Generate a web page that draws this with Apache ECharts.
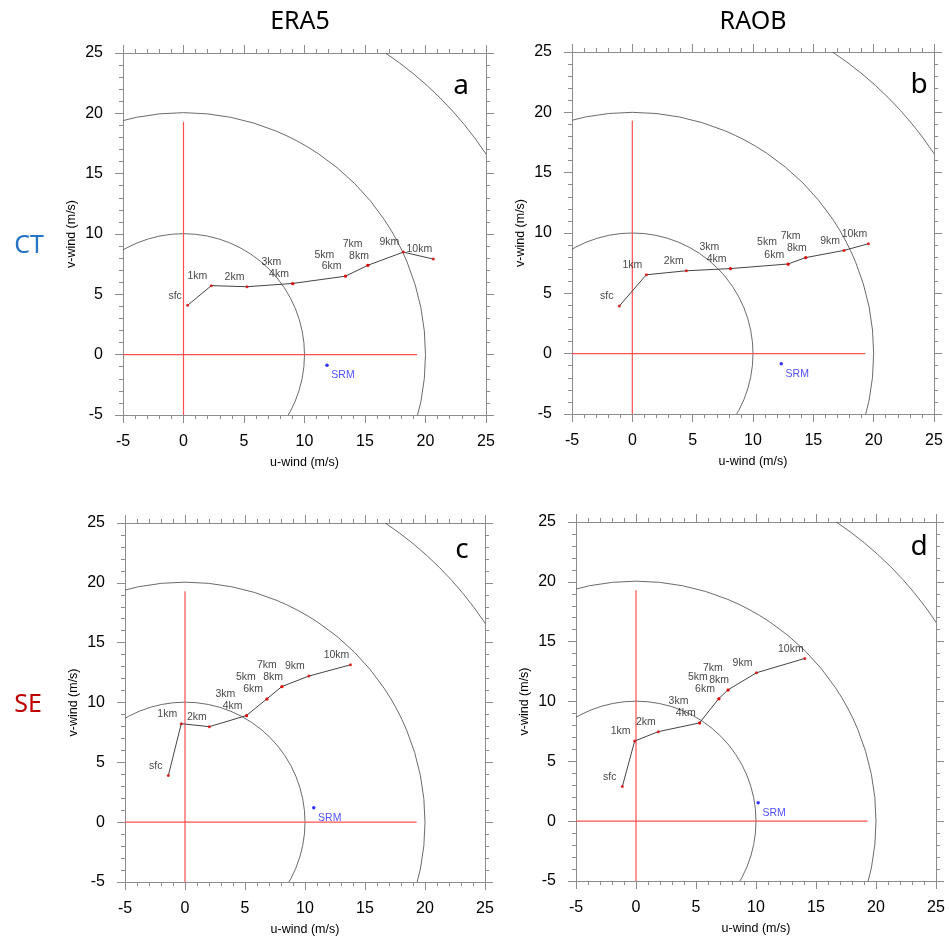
<!DOCTYPE html>
<html>
<head>
<meta charset="utf-8">
<script src="https://cdn.jsdelivr.net/npm/echarts@6/dist/echarts.min.js"></script>
<style>
html,body{margin:0;padding:0;background:#fff;}
#chart{width:949px;height:938px;}
</style>
</head>
<body>
<div id="chart"></div>
<script>
// ---------- data ----------
const levels = ['sfc','1km','2km','3km','4km','5km','6km','7km','8km','9km','10km'];
const ringRadii = [10, 20, 30];
const crossLength = 19.3;
const axisMin = -5, axisMax = 25, axisStep = 5;

const era5CtU = [0.34, 2.30, 5.25, 9.00, 9.05, 13.38, 13.40, 15.22, 15.25, 18.17, 20.65];
const era5CtV = [4.09, 5.72, 5.63, 5.90, 5.88, 6.50, 6.52, 7.40, 7.42, 8.50, 7.92];
const era5CtSrm = [11.86, -0.87];

const raobCtU = [-1.08, 1.16, 4.47, 8.12, 8.14, 12.90, 12.92, 14.36, 14.38, 17.55, 19.57];
const raobCtV = [3.95, 6.54, 6.87, 7.05, 7.04, 7.43, 7.42, 7.96, 7.95, 8.56, 9.11];
const raobCtSrm = [12.34, -0.83];

const era5SeU = [-1.39, -0.31, 2.03, 5.12, 5.14, 6.82, 6.84, 8.07, 8.09, 10.32, 13.79];
const era5SeV = [3.89, 8.23, 7.98, 8.91, 8.90, 10.30, 10.29, 11.33, 11.32, 12.21, 13.15];
const era5SeSrm = [10.73, 1.20];

const raobSeU = [-1.14, -0.11, 1.86, 5.29, 5.31, 6.90, 6.92, 7.66, 7.68, 10.04, 14.07];
const raobSeV = [2.89, 6.70, 7.48, 8.21, 8.20, 10.24, 10.23, 10.97, 10.96, 12.40, 13.60];
const raobSeSrm = [10.18, 1.53];

const panelLetters = ['a','b','c','d'];
const columnTitles = ['ERA5','RAOB'];
const rowTitles = ['CT','SE'];

// ---------- styles / layout ----------
const grids = [
  {left:123, top:53, width:363, height:362},
  {left:572, top:52, width:362, height:362},
  {left:125, top:523, width:360, height:359},
  {left:576, top:522, width:360, height:359}
];
const letterPos = [[461,86],[919,85],[462,550],[919,547]];
// label centre offsets (px) relative to the point
const defaultLabelOffset = [-14, -9.5];
const labelNudge = {
  'sfc':[-12.5,-9.5], '2km':[-12.5,-9.5],
  '3km':[-21,-21.5], '5km':[-21,-21.5], '7km':[-15,-21.5], '8km':[-9,-9.5]
};
const axisColor = '#8c8c8c';
const FONT = '"Liberation Sans", Arial, sans-serif';
const CROSS_COLOR = '#ff5050';

const panels = [
  {u:era5CtU, v:era5CtV, srm:era5CtSrm},
  {u:raobCtU, v:raobCtV, srm:raobCtSrm},
  {u:era5SeU, v:era5SeV, srm:era5SeSrm},
  {u:raobSeU, v:raobSeV, srm:raobSeSrm}
];

const xAxes = [], yAxes = [], series = [];

function makeAxis(kind, gi, pos, labeled) {
  const ax = {
    type:'value', gridIndex:gi, position:pos,
    min:axisMin, max:axisMax, interval:axisStep,
    axisLine:{show:true, onZero:false, lineStyle:{color:axisColor, width:1}},
    axisTick:{show:true, inside:false, length:8, lineStyle:{color:axisColor, width:1}},
    minorTick:{show:true, splitNumber:5, length:4, lineStyle:{color:axisColor, width:1}},
    splitLine:{show:false},
    minorSplitLine:{show:false},
    axisPointer:{show:false},
    axisLabel:{show:labeled, color:'#000', fontSize:16, fontFamily:FONT, margin: kind==='x'?19:20}
  };
  if (labeled) {
    ax.name = kind==='x' ? 'u-wind (m/s)' : 'v-wind (m/s)';
    ax.nameLocation = 'middle';
    ax.nameGap = kind==='x' ? 41 : 45;
    ax.nameTextStyle = {color:'#000', fontSize:12.5, fontFamily:FONT};
  }
  return ax;
}

panels.forEach((p, i) => {
  xAxes.push(makeAxis('x', i, 'bottom', true));
  xAxes.push(makeAxis('x', i, 'top', false));
  yAxes.push(makeAxis('y', i, 'left', true));
  yAxes.push(makeAxis('y', i, 'right', false));
  const xi = i*2, yi = i*2;

  // range rings
  series.push({
    type:'custom', xAxisIndex:xi, yAxisIndex:yi, clip:true, silent:true, z:1,
    data: ringRadii.map(r => [r]),
    renderItem: function(params, api) {
      const r = api.value(0);
      const c = api.coord([0,0]);
      const px = api.size([r, r])[0];
      return {type:'circle', shape:{cx:c[0], cy:c[1], r:px},
              style:{fill:null, stroke:'#5a5a5a', lineWidth:0.9}};
    }
  });
  // red cross lines (hodograph axes)
  series.push({
    type:'line', xAxisIndex:xi, yAxisIndex:yi, z:2, silent:true,
    data:[[axisMin, 0], [crossLength, 0]], symbol:'none',
    lineStyle:{color:CROSS_COLOR, width:1.4}
  });
  series.push({
    type:'line', xAxisIndex:xi, yAxisIndex:yi, z:2, silent:true,
    data:[[0, axisMin], [0, crossLength]], symbol:'none',
    lineStyle:{color:CROSS_COLOR, width:1.2}
  });
  const pts = p.u.map((u, k) => [u, p.v[k]]);
  // hodograph line
  series.push({
    type:'line', xAxisIndex:xi, yAxisIndex:yi, z:3, silent:true,
    data: pts, symbol:'none', lineStyle:{color:'#444', width:1}
  });
  // level points with labels
  series.push({
    type:'scatter', xAxisIndex:xi, yAxisIndex:yi, z:4, silent:true,
    symbolSize:3, itemStyle:{color:'#e00000'},
    data: pts.map((pt, k) => ({
      value: pt,
      label: {
        show:true, position:'inside', formatter: levels[k],
        offset: labelNudge[levels[k]] || defaultLabelOffset,
        color:'#111', fontSize:10.5, fontFamily:FONT
      }
    }))
  });
  // storm relative motion
  series.push({
    type:'scatter', xAxisIndex:xi, yAxisIndex:yi, z:4, silent:true,
    symbolSize:3.5, itemStyle:{color:'#0000ff'},
    data:[{value:p.srm, label:{show:true, position:'inside', formatter:'SRM', offset:[16,10],
      color:'#1e1eff', fontSize:10.5, fontFamily:FONT}}]
  });
});

const TITLE_FONT = '25px "Noto Sans", "Open Sans", sans-serif';
const graphic = [
  {type:'text', x:300, y:22, style:{text:columnTitles[0], font:TITLE_FONT, fill:'#000', align:'center', verticalAlign:'middle'}},
  {type:'text', x:753, y:22, style:{text:columnTitles[1], font:TITLE_FONT, fill:'#000', align:'center', verticalAlign:'middle'}},
  {type:'text', x:29, y:246, style:{text:rowTitles[0], font:TITLE_FONT, fill:'#2473c6', align:'center', verticalAlign:'middle'}},
  {type:'text', x:28, y:705, style:{text:rowTitles[1], font:TITLE_FONT, fill:'#c00000', align:'center', verticalAlign:'middle'}}
];
panelLetters.forEach((t, i) => {
  graphic.push({type:'text', x:letterPos[i][0], y:letterPos[i][1],
    style:{text:t, font:'28px "Noto Sans", "Open Sans", sans-serif', fill:'#000', align:'center', verticalAlign:'middle'}});
});

const chart = echarts.init(document.getElementById('chart'), null, {renderer:'canvas'});
chart.setOption({
  animation:false,
  backgroundColor:'#fff',
  grid: grids.map(g => Object.assign({containLabel:false}, g)),
  xAxis: xAxes,
  yAxis: yAxes,
  series: series,
  graphic: graphic
});
</script>
</body>
</html>
